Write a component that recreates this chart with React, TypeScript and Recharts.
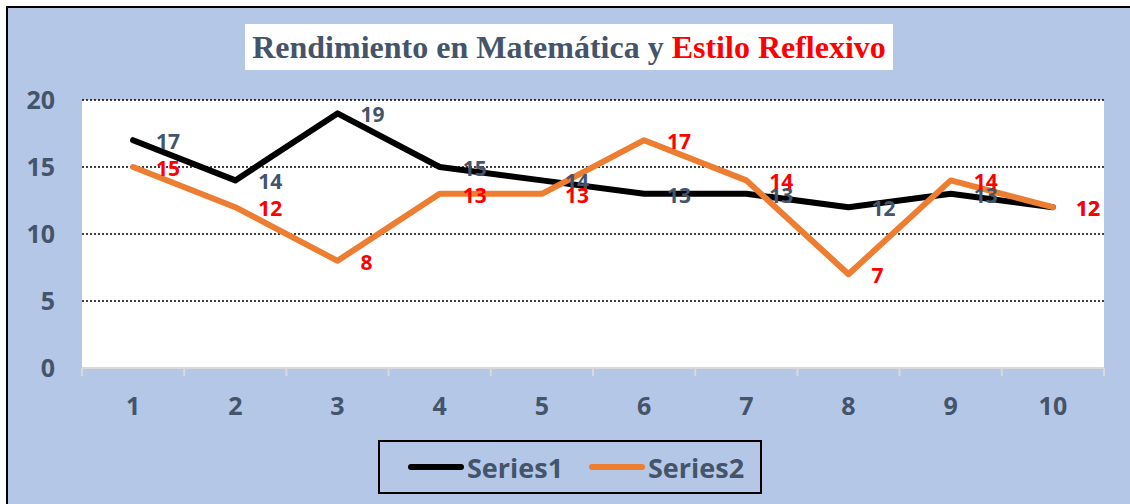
import React from 'react';
import { LineChart, Line, XAxis, YAxis, CartesianGrid, LabelList } from 'recharts';

const categories = ['1', '2', '3', '4', '5', '6', '7', '8', '9', '10'];
const series1 = [17, 14, 19, 15, 14, 13, 13, 12, 13, 12];
const series2 = [15, 12, 8, 13, 13, 17, 14, 7, 14, 12];
const yTicks = [0, 5, 10, 15, 20];
const gridValues = [5, 10, 15, 20];
const seriesNames = ['Series1', 'Series2'];
const seriesColors = ['#000000', '#ED7D31'];
const labelColors = ['#44546A', '#FF0000'];
const titleParts = ['Rendimiento en Matemática y', 'Estilo Reflexivo'];

const data = categories.map((c, i) => ({ x: i + 1, cat: c, s1: series1[i], s2: series2[i] }));
const xTicks = categories.flatMap((_, i) => [i + 0.5, i + 1]).concat([categories.length + 0.5]);

const FONT = '"Open Sans", sans-serif';
const TEXT = '#44546A';

const XTick = (props: any) => {
  const { x, y, payload } = props;
  const v = payload.value;
  if (Number.isInteger(v)) {
    return (
      <text x={x} y={y + 37} textAnchor="middle" dominantBaseline="central" fill={TEXT}
        fontSize={25} fontWeight={700} fontFamily={FONT}>{categories[v - 1]}</text>
    );
  }
  return <line x1={x} x2={x} y1={y} y2={y + 8} stroke="#D9D9D9" strokeWidth={2} />;
};

const makeLabel = (color: string) => (props: any) => {
  const { x, y, value } = props;
  return (
    <text x={x + 23} y={y + 1} dominantBaseline="central" fill={color}
      fontSize={21} fontWeight={700} fontFamily={FONT}>{value}</text>
  );
};

export default function App() {
  return (
    <div style={{ position: 'fixed', left: 6, top: 6, width: 1140, height: 510, borderLeft: '2px solid #000', borderTop: '2px solid #000', background: '#B4C7E7' }}>
      <div style={{ position: 'absolute', left: 237, top: 16, width: 648, height: 46, background: '#fff', textAlign: 'center', lineHeight: '46px', fontFamily: '"Liberation Serif", serif', fontWeight: 700, fontSize: 32, color: TEXT, whiteSpace: 'nowrap' }}>
        {titleParts[0]} <span style={{ color: '#FF0000' }}>{titleParts[1]}</span>
      </div>
      <div style={{ position: 'absolute', left: 0, top: 0 }}>
        <LineChart width={1122} height={496} data={data} margin={{ top: 92, right: 26, left: 14, bottom: 76 }}>
          <CartesianGrid fill="#FFFFFF" vertical={false} horizontalValues={gridValues} stroke="#000" strokeWidth={1.5} strokeDasharray="2 2" />
          <XAxis dataKey="x" type="number" domain={[0.5, 10.5]} ticks={xTicks} interval={0} tick={<XTick />}
            tickLine={false} tickSize={0} tickMargin={0} height={60} axisLine={{ stroke: '#D9D9D9', strokeWidth: 2 }} />
          <YAxis domain={[0, 20]} ticks={yTicks} width={60} axisLine={false} tickLine={false} tickSize={0} tickMargin={27}
            tick={{ fill: TEXT, fontSize: 25, fontWeight: 700, fontFamily: FONT }} />
          <Line dataKey="s1" name={seriesNames[0]} stroke={seriesColors[0]} strokeWidth={6} dot={false} activeDot={false}
            strokeLinecap="round" strokeLinejoin="round" isAnimationActive={false} />
          <Line dataKey="s2" name={seriesNames[1]} stroke={seriesColors[1]} strokeWidth={6} dot={false} activeDot={false}
            strokeLinecap="round" strokeLinejoin="round" isAnimationActive={false} />
          <Line dataKey="s1" stroke="none" dot={false} activeDot={false} legendType="none" isAnimationActive={false}>
            <LabelList dataKey="s1" content={makeLabel(labelColors[0])} />
          </Line>
          <Line dataKey="s2" stroke="none" dot={false} activeDot={false} legendType="none" isAnimationActive={false}>
            <LabelList dataKey="s2" content={makeLabel(labelColors[1])} />
          </Line>
        </LineChart>
      </div>
      <div style={{ position: 'absolute', left: 370, top: 432, width: 380, height: 50, border: '2px solid #000', fontFamily: FONT, fontWeight: 700, fontSize: 27, color: TEXT }}>
        {seriesNames.map((n, i) => (
          <div key={n} style={{ position: 'absolute', left: i === 0 ? 26 : 207, top: 0, height: 50, display: 'flex', alignItems: 'center' }}>
            <svg width={60} height={10}><line x1={5} x2={55} y1={5} y2={5} stroke={seriesColors[i]} strokeWidth={6} strokeLinecap="round" /></svg>
            <span style={{ marginLeft: 1 }}>{n}</span>
          </div>
        ))}
      </div>
    </div>
  );
}
